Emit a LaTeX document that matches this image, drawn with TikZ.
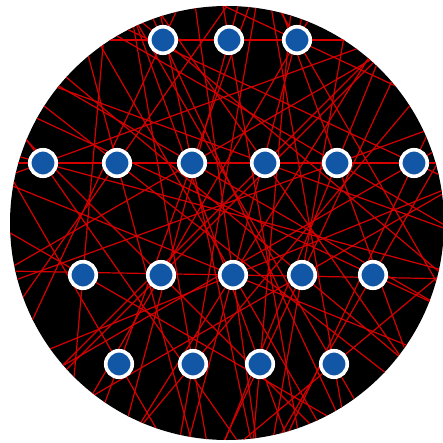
\documentclass[tikz,border=0pt]{standalone}
\usetikzlibrary{calc}
\definecolor{nodeblue}{RGB}{18,86,166}
\definecolor{linered}{RGB}{215,0,0}
\begin{document}
\begin{tikzpicture}[x=1pt,y=-1pt,
  edge/.style={draw=linered,line width=1.2pt},
  dot/.style={circle,fill=nodeblue,draw=white,line width=3.6pt,minimum size=26.5pt,inner sep=0pt}]
\useasboundingbox (0,0) rectangle (442,443);
\coordinate (O) at (227,223);
\fill[black] (O) circle (217);
% node centres
\coordinate (a) at (163,40);  \coordinate (b) at (229,40);  \coordinate (c) at (297,40);
\coordinate (d) at (43,163);  \coordinate (e) at (117,163); \coordinate (f) at (192,163);
\coordinate (g) at (265,163); \coordinate (h) at (337,163); \coordinate (i) at (414,163);
\coordinate (j) at (83,275);  \coordinate (k) at (161,275); \coordinate (l) at (233,275);
\coordinate (m) at (302,275); \coordinate (n) at (373,275);
\coordinate (o) at (119,364); \coordinate (p) at (193,364); \coordinate (q) at (260,364);
\coordinate (r) at (334,364);
\begin{scope}
\clip (O) circle (217);
\foreach \n/\a in {b/0, f/0, l/1,
  a/65, a/115, a/40,
  b/80, b/105,
  c/60, c/120, c/25,
  d/15, d/160, d/55,
  e/38, e/125, e/75,
  f/30, f/150, f/78,
  g/20, g/135, g/55,
  h/30, h/160, h/112, h/70,
  i/150, i/25, i/115,
  j/30, j/95,
  k/45, k/135,
  l/60, l/82, l/105, l/122, l/158, l/22,
  m/40, m/150, m/100,
  n/25, n/120,
  o/110, o/60,
  p/80, p/100, p/130,
  q/70, q/95, q/115,
  r/60, r/80, r/140}
  \draw[edge] ($(\n)+(\a:-460)$) -- ($(\n)+(\a:460)$);
\end{scope}
\foreach \n in {a,b,c,d,e,f,g,h,i,j,k,l,m,n,o,p,q,r}
  \node[dot] (N\n) at (\n) {};
\end{tikzpicture}
\end{document}
